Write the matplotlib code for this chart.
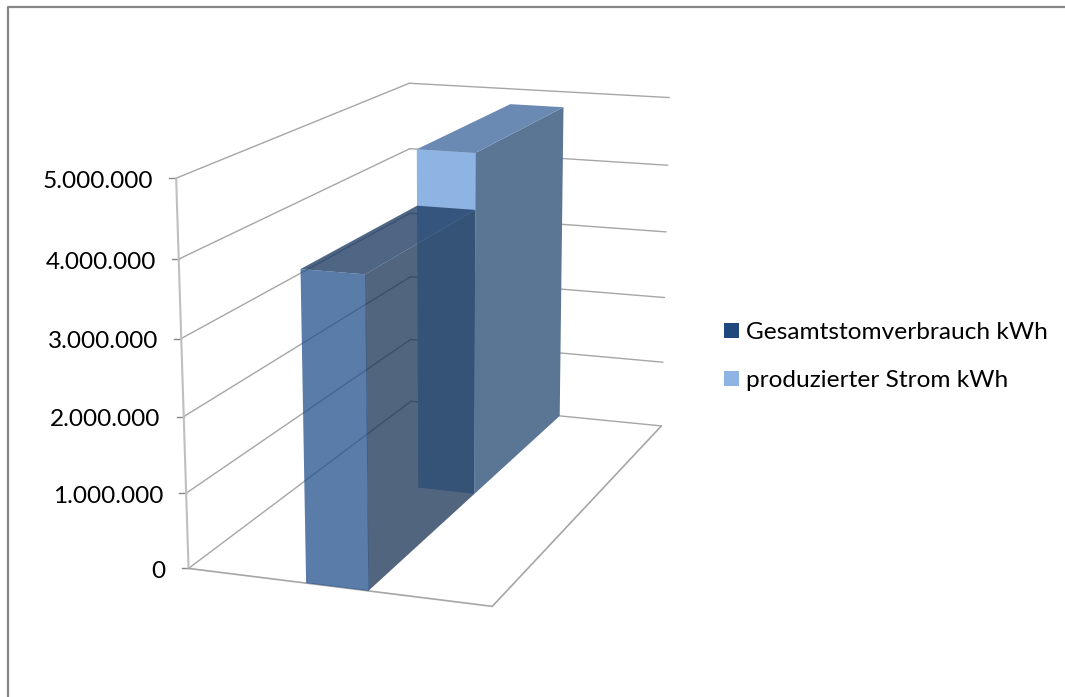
import numpy as np
import matplotlib
matplotlib.use('Agg')
import matplotlib.pyplot as plt
from matplotlib.patches import Polygon, Patch

plt.rcParams['font.family'] = ['Lato', 'DejaVu Sans']

# data
series_names = ['Gesamtstomverbrauch kWh', 'produzierter Strom kWh']
series_values = [4000000, 4770000]
tick_values = [0, 1000000, 2000000, 3000000, 4000000, 5000000]
tick_labels = ['0', '1.000.000', '2.000.000', '3.000.000', '4.000.000', '5.000.000']
legend_colors = ['#1f497d', '#8db4e2']

W, H = 1065, 697
VMAX = 5000000.0
BAR_X = (0.397, 0.602)
GRID = '#a6a6a6'

# box corners (x, depth, value 0-1) against where they sit on the canvas
corners = [(0, 0, 0), (1, 0, 0), (1, 1, 0), (0, 1, 0), (0, 0, 1), (0, 1, 1), (1, 1, 1)]
canvas = [(188, 568), (492, 607), (661, 425), (412, 402), (177, 178), (408, 83), (670, 98)]

rows = []
for (a, b, c), (u, v) in zip(corners, canvas):
    p = [a, b, c, 1]
    rows.append(p + [0, 0, 0, 0] + [-u * q for q in p])
    rows.append([0, 0, 0, 0] + p + [-v * q for q in p])
cam = np.linalg.svd(np.array(rows, dtype=float))[2][-1].reshape(3, 4)


def proj(x, d, val):
    h = cam @ np.array([x, d, val / VMAX, 1.0])
    return h[0] / h[2], h[1] / h[2]


def line3(ax, p0, p1, color=GRID, lw=1.0, z=1):
    a, b = proj(*p0), proj(*p1)
    ax.plot([a[0], b[0]], [a[1], b[1]], color=color, lw=lw, zorder=z, solid_capstyle='round')


def face(ax, pts, color, alpha=1.0, z=3):
    ax.add_patch(Polygon([proj(*p) for p in pts], closed=True, fc=color, ec='none',
                         alpha=alpha, zorder=z))


fig = plt.figure(figsize=(W / 100, H / 100), dpi=100)
ax = fig.add_axes([0, 0, 1, 1])
ax.set_xlim(0, W)
ax.set_ylim(H, 0)
ax.axis('off')

# chart area border, runs off the picture at the right and bottom
ax.plot([8, 8, W + 5], [H + 5, 7, 7], color='#868686', lw=1.6, zorder=0)

# walls
for t, lab in zip(tick_values, tick_labels):
    line3(ax, (0, 0, t), (0, 1, t))
    line3(ax, (0, 1, t), (1, 1, t))
    u, v = proj(0, 0, t)
    ax.plot([u - 7, u], [v, v], color='#868686', lw=1.0, zorder=1)
    ax.text(u - 23, v + 3, lab, ha='right', va='center', fontsize=17.6, color='black')
line3(ax, (0, 0, 0), (0, 0, VMAX), color='#bfbfbf', lw=1.5)
line3(ax, (0, 0, 0), (1, 0, 0), lw=1.2)
line3(ax, (1, 0, 0), (1, 1, 0), lw=1.2)

# back bar, opaque
x0, x1 = BAR_X
v2 = series_values[1]
d0, d1 = 0.5, 1.0
face(ax, [(x1, d0, 0), (x1, d1, 0), (x1, d1, v2), (x1, d0, v2)], '#5b7595')
face(ax, [(x0, d0, v2), (x1, d0, v2), (x1, d1, v2), (x0, d1, v2)], '#6a8ab3')
face(ax, [(x0, d0, 0), (x1, d0, 0), (x1, d0, v2), (x0, d0, v2)], '#8db4e2')

# front bar, see-through
v1 = series_values[0]
d0, d1 = 0.0, 0.5
face(ax, [(x0, d0, v1), (x1, d0, v1), (x1, d1, v1), (x0, d1, v1)], '#1c3a62', alpha=0.78, z=4)
face(ax, [(x1, d0, 0), (x1, d1, 0), (x1, d1, v1), (x1, d0, v1)], '#183154', alpha=0.75, z=4)
face(ax, [(x0, d0, 0), (x1 + 0.0015, d0, 0), (x1 + 0.0015, d0, v1), (x0, d0, v1)], '#23508b', alpha=0.75, z=4)

handles = [Patch(fc=c, ec='none') for c in legend_colors]
ax.legend(handles, series_names, loc='upper left', bbox_to_anchor=(718 / W, 1 - 316 / H),
          bbox_transform=ax.transAxes, frameon=False, fontsize=17.6, handlelength=0.61,
          handleheight=0.61, handletextpad=0.29, labelspacing=1.11, borderpad=0.25,
          borderaxespad=0)

fig.savefig('out.png', dpi=100)
